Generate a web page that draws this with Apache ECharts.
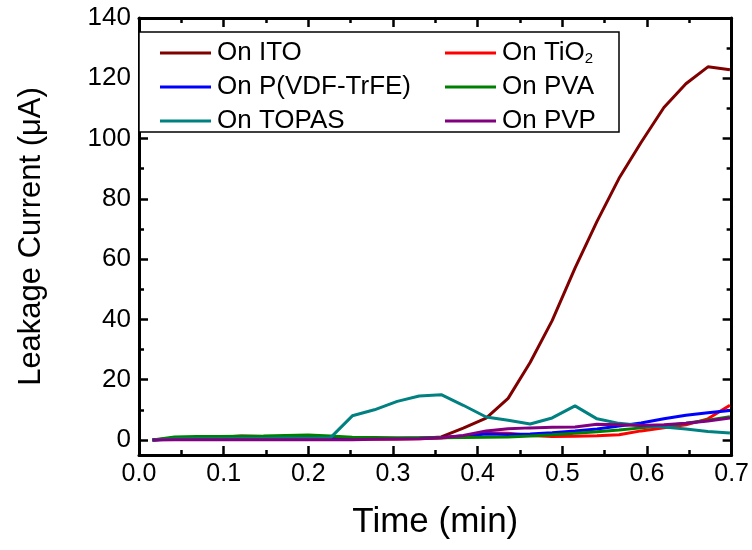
<!DOCTYPE html>
<html>
<head>
<meta charset="utf-8">
<script src="https://cdn.jsdelivr.net/npm/echarts@6/dist/echarts.min.js"></script>
<style>
  html, body { margin: 0; padding: 0; background: #fff; }
  #chart { width: 752px; height: 550px; }
</style>
</head>
<body>
<div id="chart"></div>
<script>
// time axis (min)
var time = [0.016, 0.042, 0.068, 0.095, 0.121, 0.147, 0.173, 0.200, 0.226, 0.252, 0.278, 0.305, 0.331, 0.357,
            0.383, 0.410, 0.436, 0.462, 0.488, 0.515, 0.541, 0.567, 0.593, 0.620, 0.646, 0.672, 0.698];

// leakage current (uA) per substrate
var onITO   = [0, 0.6, 0.8, 0.9, 1.3, 1.1, 1.0, 0.9, 0.7, 0.5, 0.4, 0.4, 0.5, 1.0,
               3.9, 7.2, 13.8, 25.7, 39.6, 57.0, 72.5, 86.8, 98.7, 110.3, 118.2, 123.8, 122.8];
var onTiO2  = [0, 0.5, 0.6, 0.7, 0.8, 0.7, 0.6, 0.5, 0.4, 0.3, 0.3, 0.3, 0.4, 0.6,
               1.2, 2.3, 2.2, 1.5, 1.1, 1.2, 1.4, 1.7, 3.0, 4.0, 5.0, 7.0, 11.5];
var onPVDF  = [0, 0.4, 0.4, 0.5, 0.5, 0.5, 0.5, 0.5, 0.5, 0.5, 0.5, 0.5, 0.6, 0.8,
               1.3, 2.0, 1.8, 2.0, 2.4, 3.0, 3.6, 4.6, 5.6, 7.0, 8.2, 9.0, 9.8];
var onPVA   = [0, 1.0, 1.1, 1.1, 1.2, 1.3, 1.5, 1.6, 1.3, 0.9, 0.8, 0.7, 0.7, 0.7,
               0.8, 0.9, 1.0, 1.3, 1.7, 2.2, 2.7, 3.3, 4.0, 4.6, 5.5, 6.5, 7.7];
var onTOPAS = [0, 0.3, 0.4, 0.4, 0.5, 0.5, 0.6, 0.6, 0.7, 8.0, 10.0, 12.8, 14.6, 15.0,
               11.5, 7.6, 6.5, 5.3, 7.3, 11.3, 7.0, 5.5, 4.8, 4.3, 3.6, 2.8, 2.3];
var onPVP   = [0, 0.1, 0.1, 0.1, 0.1, 0.1, 0.1, 0.1, 0.1, 0.1, 0.2, 0.3, 0.4, 0.7,
               1.5, 3.0, 3.7, 4.0, 4.2, 4.3, 5.2, 5.0, 4.8, 5.0, 5.5, 6.3, 7.3];

var names  = ['On ITO', 'On TiO2', 'On P(VDF-TrFE)', 'On PVA', 'On TOPAS', 'On PVP'];
var values = [onITO, onTiO2, onPVDF, onPVA, onTOPAS, onPVP];
var colors = ['#800000', '#ff0000', '#0000ff', '#008000', '#008080', '#800080'];

var FONT = 'Liberation Sans, Arial, sans-serif';

function pairs(ys) {
    var list = [];
    for (var i = 0; i < time.length; i++) {
        list.push([time[i], ys[i]]);
    }
    return list;
}

var seriesList = [];
for (var k = 0; k < names.length; k++) {
    seriesList.push({
        name: names[k],
        type: 'line',
        showSymbol: false,
        symbol: 'none',
        lineStyle: { color: colors[k], width: 3 },
        itemStyle: { color: colors[k] },
        data: pairs(values[k])
    });
}

// box axes: thick line, inward major + minor ticks
function frameAxis(extra) {
    var ax = {
        type: 'value',
        axisLine: { show: true, onZero: false, lineStyle: { color: '#000', width: 3 } },
        axisTick: { show: true, inside: true, length: 9, lineStyle: { color: '#000', width: 2.5 } },
        minorTick: { show: true, splitNumber: 2, length: 5, lineStyle: { color: '#000', width: 2.5 } },
        splitLine: { show: false },
        axisLabel: { show: false }
    };
    for (var key in extra) ax[key] = extra[key];
    return ax;
}

function legendBlock(items, left) {
    return {
        orient: 'vertical',
        left: left,
        top: 40,
        data: items,
        icon: 'rect',
        itemWidth: 51,
        itemHeight: 3,
        itemGap: 8,
        padding: 0,
        textStyle: {
            fontFamily: FONT, fontSize: 26, color: '#000', lineHeight: 26, padding: [0, 0, 0, 1],
            rich: { sub: { fontFamily: FONT, fontSize: 15, color: '#000', verticalAlign: 'bottom', lineHeight: 22 } }
        },
        formatter: function (name) {
            return name === 'On TiO2' ? 'On TiO{sub|2}' : name;
        }
    };
}

var chart = echarts.init(document.getElementById('chart'));
var option = {
    animation: false,
    color: colors,
    grid: { left: 139, right: 18, top: 18, bottom: 95 },
    legend: [
        legendBlock(['On ITO', 'On P(VDF-TrFE)', 'On TOPAS'], 160),
        legendBlock(['On TiO2', 'On PVA', 'On PVP'], 445)
    ],
    graphic: [{
        type: 'rect',
        z: 3,
        shape: { x: 139, y: 32, width: 480, height: 100 },
        style: { fill: '#fff', stroke: '#000', lineWidth: 1.5 }
    }],
    xAxis: [
        frameAxis({
            position: 'bottom', min: 0, max: 0.7, interval: 0.1,
            name: 'Time (min)', nameLocation: 'middle', nameGap: 50,
            nameTextStyle: { fontFamily: FONT, fontSize: 35, color: '#000' },
            axisLabel: {
                show: true, fontFamily: FONT, fontSize: 25, color: '#000', margin: 7,
                formatter: function (v) { return v.toFixed(1); }
            }
        }),
        frameAxis({ position: 'top', min: 0, max: 0.7, interval: 0.1 })
    ],
    yAxis: [
        frameAxis({
            position: 'left', min: -5, max: 140, minInterval: 20, maxInterval: 20,
            name: 'Leakage Current (\u03bcA)', nameLocation: 'middle', nameGap: 92,
            nameTextStyle: { fontFamily: FONT, fontSize: 31, color: '#000' },
            axisLabel: {
                show: true, fontFamily: FONT, fontSize: 26, color: '#000', margin: 8,
                formatter: function (v) { return v % 20 === 0 ? String(v) : ''; }
            }
        }),
        frameAxis({ position: 'right', min: -5, max: 140, minInterval: 20, maxInterval: 20 })
    ],
    series: seriesList
};

chart.setOption(option);
</script>
</body>
</html>
